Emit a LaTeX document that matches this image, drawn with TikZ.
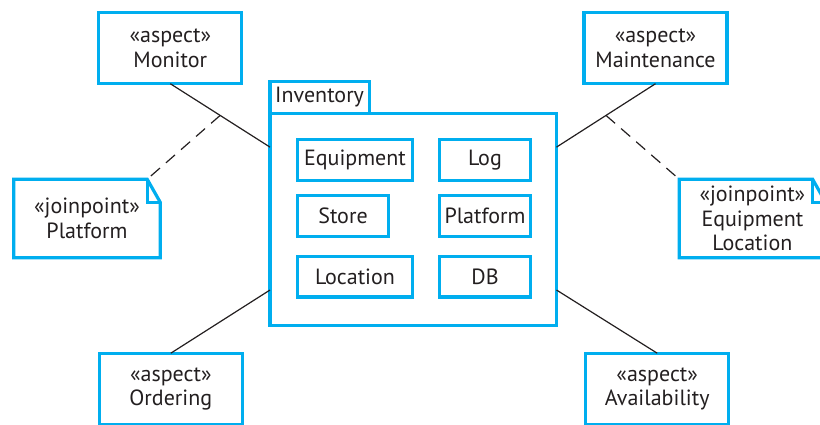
\documentclass[tikz,border=0pt]{standalone}
\usepackage{fontspec}
\setmainfont{PT Sans}
\usepackage{xcolor}
\usetikzlibrary{positioning, calc}
\definecolor{umlblue}{RGB}{0,174,239}
\definecolor{inkgray}{RGB}{35,31,32}

\begin{document}
\begin{tikzpicture}[
  x=0.5pt, y=-0.5pt,
  font=\fontsize{11}{12.3}\selectfont,
  text=inkgray,
  node distance=7.8pt and 13.2pt,
  box/.style={draw=umlblue, line width=1.6pt, outer sep=0pt, align=center, inner sep=2pt},
  aspect/.style={box, minimum width=71.5pt, minimum height=35.7pt},
  part/.style={box, minimum width=45.8pt, minimum height=20.2pt},
  widepart/.style={part, minimum width=57.8pt},
  jp/.style={align=center, outer sep=0pt, minimum width=73.2pt, minimum height=39.3pt},
  note/.style={draw=umlblue, line width=1.6pt, line join=miter},
  link/.style={draw=inkgray, line width=0.6pt},
  joinlink/.style={link, dash pattern=on 6pt off 4pt},
]
  \useasboundingbox (0,0) rectangle (820,424);

  % Inventory package with its classes
  \node[box, minimum width=143.25pt, minimum height=106pt] (inv) at (413.25,219.2) {};
  \node[box, anchor=south west, minimum width=49.6pt, minimum height=15.85pt, inner sep=1pt] (tab) at (inv.north west) {Inventory};
  \node[widepart] (equip) at (355,160) {Equipment};
  \node[part, right=of equip] (log) {Log};
  \node[part, below=7.8pt of equip.south west, anchor=north west] (store) {Store};
  \node[part, below=of log] (platform) {Platform};
  \node[widepart, below=10.2pt of store.south west, anchor=north west] (location) {Location};
  \node[part, below=10.2pt of platform] (db) {DB};

  % Aspects
  \node[aspect] (monitor) at (170.3,48) {«aspect»\\Monitor};
  \node[aspect] (maint) at (655.5,48) {«aspect»\\Maintenance};
  \node[aspect] (ordering) at (170.8,388.9) {«aspect»\\Ordering};
  \node[aspect] (avail) at (657.2,388.9) {«aspect»\\Availability};

  % Join points (notes with folded corner)
  \node[jp] (jpplat) at (87,218.5) {«joinpoint»\\Platform};
  \node[jp] (jpequip) at (752.4,218.5) {«joinpoint»\\Equipment\\Location};
  \draw[note] (jpplat.north west) -- ($(jpplat.north east)+(-13,0)$) coordinate (platfold)
    -- ++(13,23) -- (jpplat.south east) -- (jpplat.south west) -- cycle;
  \draw[note] (platfold) -- ++(0,23) -- ++(13,0);
  \draw[note] (jpequip.north west) -- ($(jpequip.north east)+(-13,0)$) coordinate (equipfold)
    -- ++(13,23) -- (jpequip.south east) -- (jpequip.south west) -- cycle;
  \draw[note] (equipfold) -- ++(0,23) -- ++(13,0);

  % Aspect links
  \draw[link] (monitor.south) -- coordinate[midway] (monmid) ($(inv.north west)!0.16!(inv.south west)$);
  \draw[link] (maint.south) -- coordinate[midway] (maintmid) ($(inv.north east)!0.16!(inv.south east)$);
  \draw[link] (ordering.north) -- ($(inv.north west)!0.834!(inv.south west)$);
  \draw[link] (avail.north) -- ($(inv.north east)!0.834!(inv.south east)$);
  \draw[joinlink] (monmid) -- (platfold);
  \draw[joinlink] (maintmid) -- (jpequip.north west);
\end{tikzpicture}
\end{document}
